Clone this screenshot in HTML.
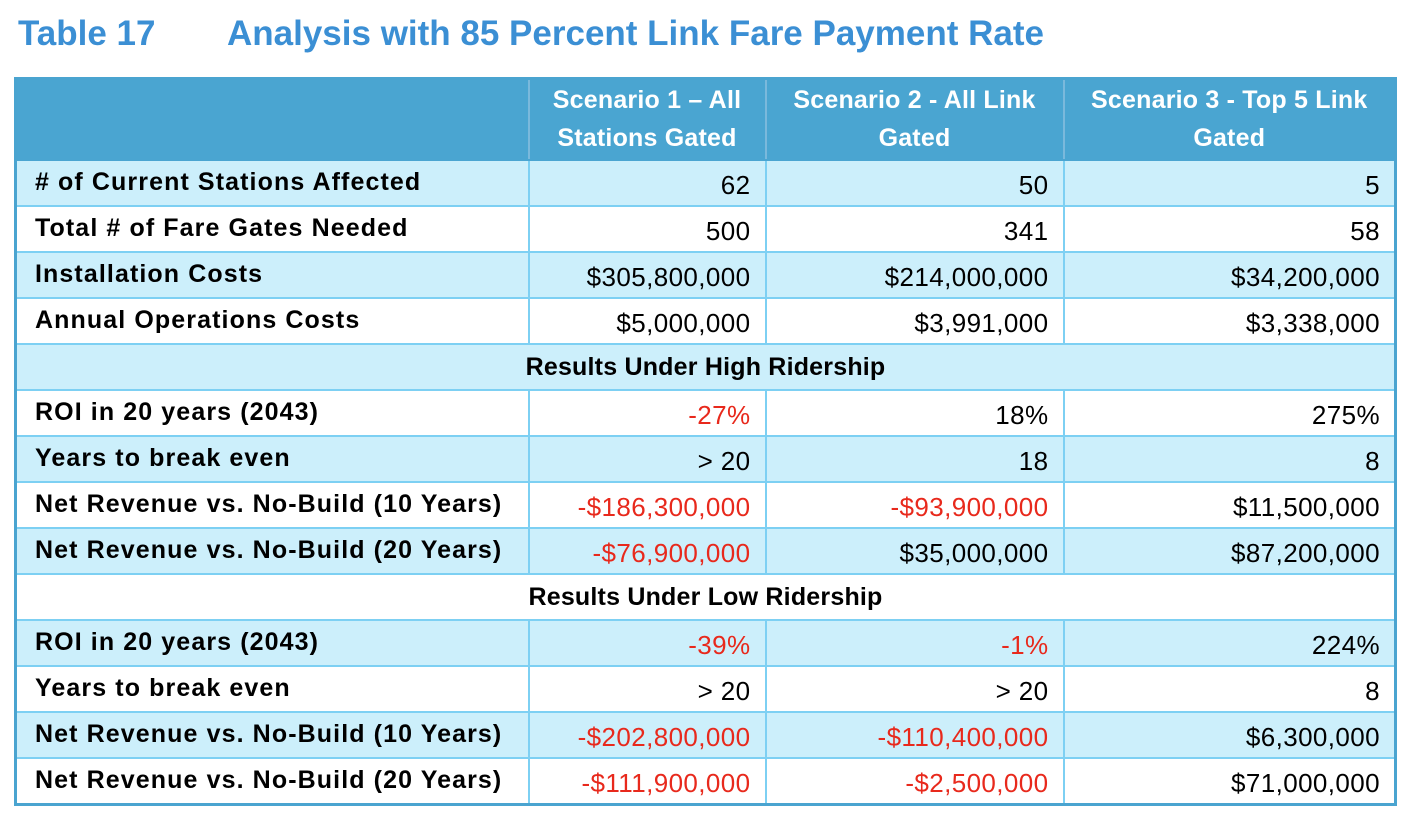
<!DOCTYPE html>
<html><head><meta charset="utf-8"><style>
body{margin:0;width:1412px;height:820px;background:#fff;position:relative;overflow:hidden;font-family:"Liberation Sans",sans-serif}
.t{position:absolute;top:14px;font-weight:bold;font-size:35px;color:#3b8fd4}
table{position:absolute;left:14px;top:77px;width:1380px;border-collapse:collapse;table-layout:fixed;border:3px solid #4aa4d0}
td{border:2px solid #7dd0f3;height:44px;line-height:44px;padding:0 14px 0 18px;font-size:26px;letter-spacing:0.4px;color:#000;white-space:nowrap;overflow:hidden;box-sizing:border-box}
td.l{font-weight:bold;font-size:25px;letter-spacing:1.1px;line-height:42px;vertical-align:top}
td.n{text-align:right;line-height:40px;padding-top:4px;vertical-align:top}
.r{color:#e8291c}
tr{height:46px}
tr.b td{background:#cceffb}
tr.h{height:81px}
tr.h td{background:#4aa5d1;color:#fff;font-weight:bold;text-align:center;font-size:25px;letter-spacing:0.2px;line-height:38px;height:81px;vertical-align:middle;padding:0 4px;border-color:#4aa5d1;border-right-color:#7ab9dc}
td.s{text-align:center;font-weight:bold;font-size:25px;padding:0;letter-spacing:0.2px}
</style></head><body>
<div class="t" style="left:18px">Table 17</div>
<div class="t" style="left:227px">Analysis with 85 Percent Link Fare Payment Rate</div>
<table>
<colgroup><col style="width:513px"><col style="width:237px"><col style="width:298px"><col style="width:332px"></colgroup>
<tr class="h"><td></td><td>Scenario 1 – All<br>Stations Gated</td><td>Scenario 2 - All Link<br>Gated</td><td>Scenario 3 - Top 5 Link<br>Gated</td></tr>
<tr class="b"><td class="l"># of Current Stations Affected</td><td class="n">62</td><td class="n">50</td><td class="n">5</td></tr>
<tr><td class="l">Total # of Fare Gates Needed</td><td class="n">500</td><td class="n">341</td><td class="n">58</td></tr>
<tr class="b"><td class="l">Installation Costs</td><td class="n">$305,800,000</td><td class="n">$214,000,000</td><td class="n">$34,200,000</td></tr>
<tr><td class="l">Annual Operations Costs</td><td class="n">$5,000,000</td><td class="n">$3,991,000</td><td class="n">$3,338,000</td></tr>
<tr class="b"><td class="s" colspan="4">Results Under High Ridership</td></tr>
<tr><td class="l">ROI in 20 years (2043)</td><td class="n r">-27%</td><td class="n">18%</td><td class="n">275%</td></tr>
<tr class="b"><td class="l">Years to break even</td><td class="n">&gt; 20</td><td class="n">18</td><td class="n">8</td></tr>
<tr><td class="l">Net Revenue vs. No-Build (10 Years)</td><td class="n r">-$186,300,000</td><td class="n r">-$93,900,000</td><td class="n">$11,500,000</td></tr>
<tr class="b"><td class="l">Net Revenue vs. No-Build (20 Years)</td><td class="n r">-$76,900,000</td><td class="n">$35,000,000</td><td class="n">$87,200,000</td></tr>
<tr><td class="s" colspan="4">Results Under Low Ridership</td></tr>
<tr class="b"><td class="l">ROI in 20 years (2043)</td><td class="n r">-39%</td><td class="n r">-1%</td><td class="n">224%</td></tr>
<tr><td class="l">Years to break even</td><td class="n">&gt; 20</td><td class="n">&gt; 20</td><td class="n">8</td></tr>
<tr class="b"><td class="l">Net Revenue vs. No-Build (10 Years)</td><td class="n r">-$202,800,000</td><td class="n r">-$110,400,000</td><td class="n">$6,300,000</td></tr>
<tr><td class="l">Net Revenue vs. No-Build (20 Years)</td><td class="n r">-$111,900,000</td><td class="n r">-$2,500,000</td><td class="n">$71,000,000</td></tr>
</table>
</body></html>
